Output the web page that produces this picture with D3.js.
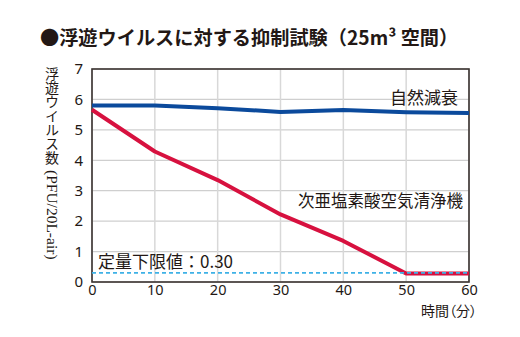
<!DOCTYPE html>
<html><head><meta charset="utf-8">
<script src="https://cdn.jsdelivr.net/npm/d3@7"></script>
<style>
body{margin:0;background:#fff;}
svg{display:block;}
text{font-family:"Noto Sans CJK JP","Noto Sans",sans-serif;fill:#231815;}
</style></head><body>
<svg id="c" width="520" height="337"></svg>
<script>
const minutes = [0, 10, 20, 30, 40, 50, 60];
const naturalDecay = [5.8, 5.8, 5.71, 5.59, 5.65, 5.58, 5.55];
const purifier = [5.66, 4.29, 3.35, 2.22, 1.35, 0.28, 0.28];
const limitValue = 0.30;
const yTicks = [0, 1, 2, 3, 4, 5, 6, 7];
const xTicks = [0, 10, 20, 30, 40, 50, 60];
const seriesNames = ["自然減衰", "次亜塩素酸空気清浄機"];
const titleText = "●浮遊ウイルスに対する抑制試験（25m³ 空間）";
const limitLabel = "定量下限値：0.30";
const xTitle = "時間（分）";
const yTitleCJK = "浮遊ウイルス数";
const yTitleUnit = "(PFU/20L-air)";

const svg = d3.select("#c");
const L = 92, R = 469, T = 69, B = 282;
const x = d3.scaleLinear().domain([0, 60]).range([L, R]);
const y = d3.scaleLinear().domain([0, 7]).range([B, T]);

// title
svg.append("text").attr("x", 40).attr("y", 45)
  .style("font-size", "19.2px").style("font-weight", "bold").text(titleText);

// grid
const g = svg.append("g");
g.selectAll("line.h").data(yTicks).join("line")
  .attr("x1", L).attr("x2", R).attr("y1", d => y(d)).attr("y2", d => y(d))
  .attr("stroke", "#cfcfcf").attr("stroke-width", 1.2);
g.selectAll("line.v").data(xTicks).join("line")
  .attr("y1", T).attr("y2", B).attr("x1", d => x(d)).attr("x2", d => x(d))
  .attr("stroke", "#d8d8d8").attr("stroke-width", 1.5);

// frame
svg.append("rect").attr("x", L).attr("y", T).attr("width", R - L).attr("height", B - T)
  .attr("fill", "none").attr("stroke", "#3a3230").attr("stroke-width", 1.6);

// axes labels via d3 axes
const ya = d3.axisLeft(y).tickValues(yTicks).tickFormat(d3.format("d")).tickSize(0).tickPadding(9);
const yg = svg.append("g").attr("transform", `translate(${L},0)`).call(ya);
yg.select(".domain").remove();
yg.selectAll("text").style("font-size", "15px").style("font-family", "'Noto Sans',sans-serif").attr("fill", "#231815");

const xa = d3.axisBottom(x).tickValues(xTicks).tickFormat(d3.format("d")).tickSize(0).tickPadding(3);
const xg = svg.append("g").attr("transform", `translate(0,${B})`).call(xa);
xg.select(".domain").remove();
xg.selectAll("text").style("font-size", "14.5px").style("font-family", "'Noto Sans',sans-serif").attr("fill", "#231815");

svg.append("text").attr("x", 477).attr("y", 316).attr("text-anchor", "end")
  .style("font-size", "14px").style("font-feature-settings", "'palt' 1").text(xTitle);

// y title vertical: CJK chars upright, unit rotated
svg.append("text").attr("x", 52).attr("y", 67)
  .style("writing-mode", "vertical-rl").style("text-orientation", "upright")
  .style("font-size", "14px").text(yTitleCJK);
svg.append("text").attr("transform", "translate(47,170) rotate(90)")
  .style("font-family", "'Liberation Serif',serif").style("font-size", "15.5px").text(yTitleUnit);

// lines
const line = d3.line().x((d, i) => x(minutes[i])).y(d => y(d));
svg.append("path").datum(naturalDecay).attr("d", line)
  .attr("fill", "none").attr("stroke", "#0b4a9c").attr("stroke-width", 4).attr("stroke-linejoin", "round");
svg.append("path").datum(purifier).attr("d", line)
  .attr("fill", "none").attr("stroke", "#d7113f").attr("stroke-width", 4).attr("stroke-linejoin", "round");

// limit line
svg.append("line").attr("x1", x(0)).attr("x2", x(60)).attr("y1", y(limitValue)).attr("y2", y(limitValue))
  .attr("stroke", "#3eb1e6").attr("stroke-width", 1.6).attr("stroke-dasharray", "4,3");

// labels
svg.append("text").attr("x", 458).attr("y", 104).attr("text-anchor", "end").style("font-size", "17px").text(seriesNames[0]);
svg.append("text").attr("x", 463).attr("y", 207).attr("text-anchor", "end").style("font-size", "16.5px").text(seriesNames[1]);
svg.append("text").attr("x", 98).attr("y", 268).style("font-size", "17px").text(limitLabel);
</script></body></html>
